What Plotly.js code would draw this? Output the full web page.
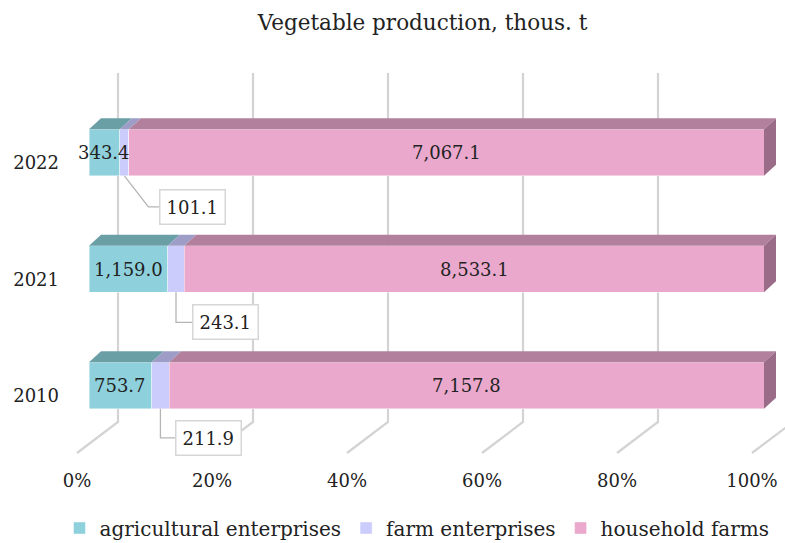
<!DOCTYPE html>
<html>
<head>
<meta charset="utf-8">
<script src="https://cdn.plot.ly/plotly-3.0.1.min.js"></script>
<style>html,body{margin:0;padding:0;background:#fff;}#chart{width:785px;height:543px;}</style>
</head>
<body>
<div id="chart"></div>
<script>
// ---- data ----
const years = ['2010', '2021', '2022'];
const agricultural = [753.7, 1159.0, 343.4];
const farmEnt = [211.9, 243.1, 101.1];
const household = [7157.8, 8533.1, 7067.1];
const seriesNames = ['agricultural enterprises', 'farm enterprises', 'household farms'];
const xTickValues = [0, 20, 40, 60, 80, 100];
const xTickLabels = ['0%', '20%', '40%', '60%', '80%', '100%'];

// ---- styling / geometry ----
const FONT = 'DejaVu Serif, serif';
const frontColors = ['#8ed1dc', '#cbcbfc', '#eaa9cc'];
const topColors = ['#6b9fa6', '#9d9dc7', '#b2809c'];
const sideColor = '#9a6c88';
const PXX = 6.75;   // px per % unit
const PXY = 116.5;  // px per category unit
const BARW = 0.4;
const dX = 12 / PXX, dY = 11 / PXY; // bar depth
const ypos = years.map((_, i) => i);

const series = [agricultural, farmEnt, household];
const totals = years.map((_, i) => series.reduce((s, a) => s + a[i], 0));
const pct = series.map(a => a.map((v, i) => v / totals[i] * 100));

const traces = series.map((vals, k) => ({
  type: 'bar', orientation: 'h', name: seriesNames[k],
  y: ypos, x: vals, width: BARW,
  marker: {color: frontColors[k], line: {color: 'rgba(255,255,255,0.55)', width: 0.8}},
  hoverinfo: 'skip'
}));

const shapes = [];
// gridlines: back wall verticals + floor diagonals
const backOff = 29 / PXX, frontOff = -12 / PXX;
const yTop = (385.5 - 73) / PXY, yBackFloor = (385.5 - 422) / PXY, yFrontFloor = (385.5 - 453) / PXY;
xTickValues.forEach(t => {
  shapes.push({type: 'path', layer: 'below', xref: 'x', yref: 'y',
    path: `M${t + backOff},${yTop} L${t + backOff},${yBackFloor} L${t + frontOff},${yFrontFloor}`,
    line: {color: '#d3d3d3', width: 2.2}});
});
// 3D top faces and right side
years.forEach((_, i) => {
  const top = ypos[i] + BARW / 2, bot = ypos[i] - BARW / 2;
  let c = 0;
  pct.forEach((p, k) => {
    const x0 = c, x1 = c + p[i];
    shapes.push({type: 'path', layer: 'above', xref: 'x', yref: 'y',
      path: `M${x0},${top} L${x1},${top} L${x1 + dX},${top + dY} L${x0 + dX},${top + dY} Z`,
      fillcolor: topColors[k], line: {width: 0}});
    c = x1;
  });
  shapes.push({type: 'path', layer: 'above', xref: 'x', yref: 'y',
    path: `M${c},${bot} L${c},${top} L${c + dX},${top + dY} L${c + dX},${bot + dY} Z`,
    fillcolor: sideColor, line: {width: 0}});
});

const annotations = [];
// labels for agricultural and household (centered in segment)
years.forEach((_, i) => {
  const a = pct[0][i], f = pct[1][i], h = pct[2][i];
  annotations.push({x: a / 2, y: ypos[i], xref: 'x', yref: 'y', text: agricultural[i].toLocaleString('en-US', {minimumFractionDigits: 1}),
    showarrow: false, font: {family: FONT, size: 18, color: '#222'}});
  annotations.push({x: a + f + h / 2, y: ypos[i], xref: 'x', yref: 'y', text: household[i].toLocaleString('en-US', {minimumFractionDigits: 1}),
    showarrow: false, font: {family: FONT, size: 18, color: '#222'}});
});
// callouts for farm enterprises: [diagX, diagY, endX] in px from segment centre at bar bottom
const callouts = [[0, 29, 15], [0, 30, 16], [24, 31, 35]];
years.forEach((_, i) => {
  const cx = pct[0][i] + pct[1][i] / 2;
  const by = ypos[i] - BARW / 2;
  const [mx, my, ex] = callouts[i];
  const p1x = cx + mx / PXX, p1y = by - my / PXY, p2x = cx + ex / PXX;
  shapes.push({type: 'path', layer: 'above', xref: 'x', yref: 'y',
    path: `M${cx},${by} L${p1x},${p1y} L${p2x},${p1y}`,
    line: {color: '#b5b5b5', width: 1.3}});
  annotations.push({x: p2x, y: p1y, xref: 'x', yref: 'y', xanchor: 'left', yanchor: 'middle',
    text: farmEnt[i].toFixed(1), showarrow: false,
    font: {family: FONT, size: 18, color: '#222'},
    bgcolor: '#fff', bordercolor: '#d6d6d6', borderwidth: 1.5, borderpad: 6});
});

const L = 60, T = 62, B = 80;
const layout = {
  width: 785, height: 543,
  margin: {l: L, r: 0, t: T, b: B},
  paper_bgcolor: '#fff', plot_bgcolor: 'rgba(0,0,0,0)',
  barmode: 'stack', barnorm: 'percent',
  showlegend: true,
  title: {text: 'Vegetable production, thous. t', x: 0.5, xref: 'paper', xanchor: 'center',
    y: 1 - 22 / 543, yref: 'container', yanchor: 'middle',
    font: {family: FONT, size: 21.5, color: '#222'}},
  xaxis: {range: [-(89 - L) / PXX, -(89 - L) / PXX + (785 - L) / PXX], showgrid: false, zeroline: false,
    tickmode: 'array', tickvals: xTickValues.map(v => v + frontOff), ticktext: xTickLabels,
    ticks: '', showline: false, fixedrange: true, ticklabelstandoff: 5,
    tickfont: {family: FONT, size: 18, color: '#222'}},
  yaxis: {range: [-(543 - B - 385.5) / PXY, (385.5 - T) / PXY], showgrid: false, zeroline: false,
    tickmode: 'array', tickvals: ypos.map(v => v - 10.5 / PXY), ticktext: years,
    ticks: '', showline: false, fixedrange: true,
    tickfont: {family: FONT, size: 18, color: '#222'}},
  legend: {orientation: 'h', x: 417 / 785, xanchor: 'center', xref: 'container', y: 15 / 543, yref: 'container', yanchor: 'middle',
    font: {family: FONT, size: 20, color: '#222'}, traceorder: 'normal'},
  shapes: shapes,
  annotations: annotations
};

Plotly.newPlot('chart', traces, layout, {displayModeBar: false, staticPlot: true});
</script>
</body>
</html>
